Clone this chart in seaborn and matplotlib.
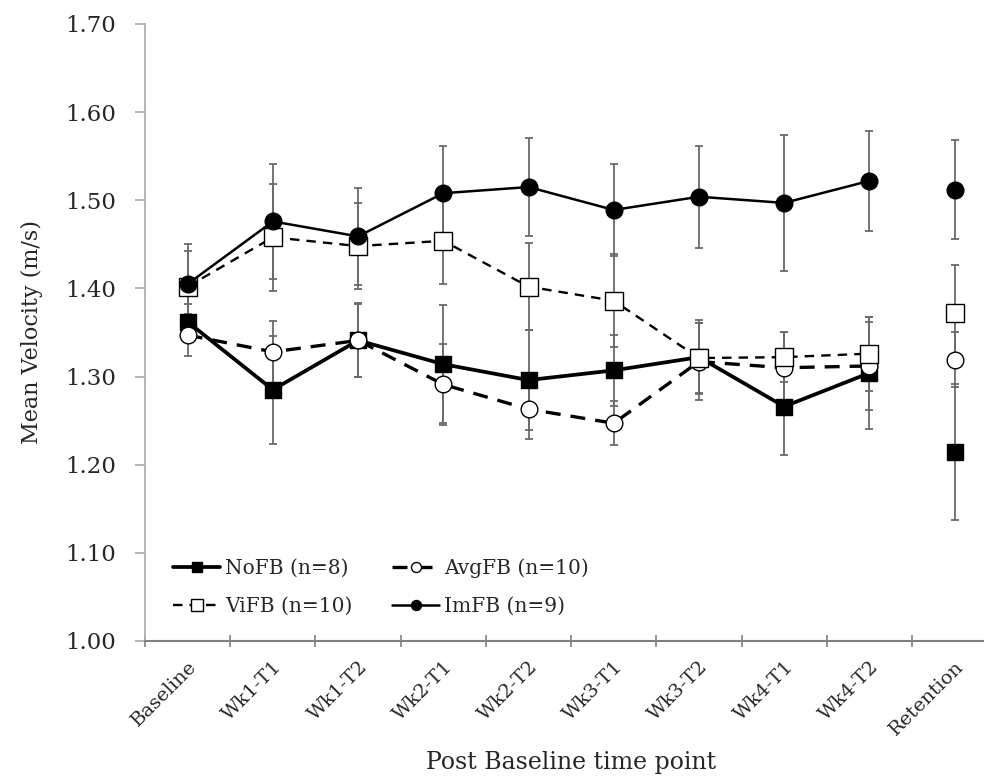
import numpy as np
import pandas as pd
import seaborn as sns
import matplotlib
matplotlib.use("Agg")
import matplotlib.pyplot as plt
from matplotlib.lines import Line2D

timepoints = ["Baseline", "Wk1-T1", "Wk1-T2", "Wk2-T1", "Wk2-T2",
              "Wk3-T1", "Wk3-T2", "Wk4-T1", "Wk4-T2", "Retention"]

nofb_mean = [1.362, 1.285, 1.341, 1.314, 1.296, 1.307, 1.322, 1.266, 1.304, 1.214]
nofb_sd = [0.020, 0.061, 0.042, 0.067, 0.057, 0.040, 0.042, 0.055, 0.063, 0.077]

avgfb_mean = [1.347, 1.328, 1.341, 1.291, 1.263, 1.247, 1.317, 1.310, 1.312, 1.319]
avgfb_sd = [0.024, 0.035, 0.041, 0.046, 0.034, 0.025, 0.044, 0.040, 0.050, 0.031]

vifb_mean = [1.402, 1.458, 1.448, 1.454, 1.402, 1.386, 1.321, 1.322, 1.326, 1.372]
vifb_sd = [0.040, 0.061, 0.049, 0.049, 0.049, 0.053, 0.040, 0.028, 0.042, 0.054]

imfb_mean = [1.405, 1.476, 1.459, 1.508, 1.515, 1.489, 1.504, 1.497, 1.522, 1.512]
imfb_sd = [0.045, 0.065, 0.055, 0.054, 0.056, 0.052, 0.058, 0.077, 0.057, 0.056]

group_labels = ["NoFB (n=8)", "AvgFB (n=10)", "ViFB (n=10)", "ImFB (n=9)"]

sns.set_theme(style="white")
plt.rcParams["font.family"] = ["DejaVu Serif"]

frames = []
for label, m, s in zip(group_labels,
                       [nofb_mean, avgfb_mean, vifb_mean, imfb_mean],
                       [nofb_sd, avgfb_sd, vifb_sd, imfb_sd]):
    frames.append(pd.DataFrame({"group": label, "time": timepoints,
                                "pos": np.arange(len(timepoints)),
                                "mean": m, "sd": s}))
df = pd.concat(frames, ignore_index=True)

styles = {
    "NoFB (n=8)":   dict(marker="s", mfc="black", ms=12, lw=2.7, dashes=None),
    "AvgFB (n=10)": dict(marker="o", mfc="white", ms=12, lw=2.4, dashes=(4.5, 3)),
    "ViFB (n=10)":  dict(marker="s", mfc="white", ms=13.5, lw=1.7, dashes=(4, 3)),
    "ImFB (n=9)":   dict(marker="o", mfc="black", ms=12, lw=1.8, dashes=None),
}

fig = plt.figure(figsize=(9.84, 7.81), dpi=100)
ax = fig.add_axes([0.1474, 0.1793, 0.866, 0.790])

# error bars first, so markers sit on top
for label in group_labels:
    g = df[df["group"] == label]
    ax.errorbar(g["pos"], g["mean"], yerr=g["sd"], fmt="none",
                ecolor="#6a6a6a", elinewidth=1.3, capsize=3.2,
                capthick=1.3, zorder=1)

# connected lines across the training sessions; retention stands alone
for label in group_labels:
    g = df[df["group"] == label]
    st = styles[label]
    train = g[g["time"] != "Retention"]
    line_kw = dict(color="black", lw=st["lw"])
    if st["dashes"] is not None:
        line_kw["dashes"] = st["dashes"]
    sns.lineplot(data=train, x="pos", y="mean", ax=ax, sort=False,
                 errorbar=None, zorder=2, **line_kw)
    sns.scatterplot(data=g, x="pos", y="mean", ax=ax, marker=st["marker"],
                    s=st["ms"] ** 2, facecolor=st["mfc"], edgecolor="black",
                    linewidth=1.0, zorder=3, legend=False)

ax.set_xlim(-0.5, len(timepoints) - 0.5)
ax.set_ylim(1.00, 1.70)
yt = np.arange(1.00, 1.701, 0.10)
ax.set_yticks(yt)
ax.set_yticklabels([f"{v:.2f}" for v in yt], fontsize=16.5)

# category boundaries carry the tick marks, labels sit at the centres
ax.set_xticks(np.arange(-0.5, len(timepoints), 1.0))
ax.set_xticklabels([])
ax.set_xticks(np.arange(len(timepoints)), minor=True)
ax.set_xticklabels(timepoints, minor=True, rotation=45, ha="right",
                   rotation_mode="anchor", fontsize=14)
ax.tick_params(axis="x", which="minor", length=0, pad=12)
ax.tick_params(axis="x", which="major", direction="inout", length=8,
               color="#808080", width=1.2, bottom=True)
ax.tick_params(axis="y", direction="out", length=7, color="#a8a8a8",
               width=1.2, left=True, pad=14)

for side in ["top", "right"]:
    ax.spines[side].set_visible(False)
ax.spines["left"].set_color("#b0b0b0")
ax.spines["left"].set_linewidth(1.3)
ax.spines["bottom"].set_color("#808080")
ax.spines["bottom"].set_linewidth(1.5)

ax.set_ylabel("Mean Velocity (m/s)", fontsize=16, labelpad=16)
ax.set_xlabel("Post Baseline time point", fontsize=17, labelpad=9)

handles = []
order = ["NoFB (n=8)", "ViFB (n=10)", "AvgFB (n=10)", "ImFB (n=9)"]
for label in order:
    st = styles[label]
    kw = dict(color="black", lw=st["lw"], marker=st["marker"],
              markerfacecolor=st["mfc"], markeredgecolor="black",
              markersize=st["ms"] * 0.6)
    if st["dashes"] is not None:
        kw["linestyle"] = (0, st["dashes"])
    handles.append(Line2D([], [], **kw))
ax.legend(handles, order, ncol=2, loc="lower left",
          bbox_to_anchor=(0.012, 0.011), frameon=False, fontsize=14.5,
          handlelength=2.3, handletextpad=0.25, columnspacing=2.0,
          labelspacing=0.95)

fig.savefig("out.png", dpi=100)
